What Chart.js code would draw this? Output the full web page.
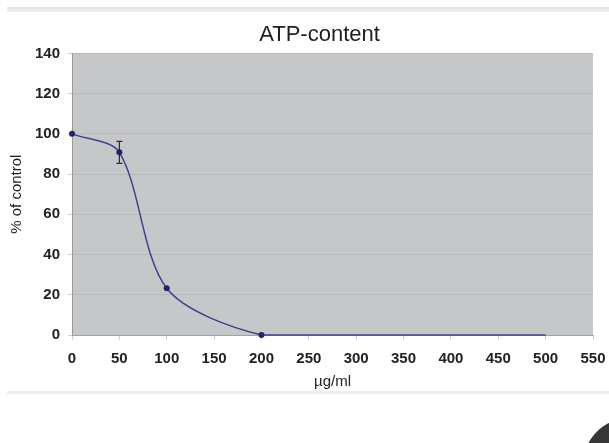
<!DOCTYPE html>
<html>
<head>
<meta charset="utf-8">
<script src="https://cdn.jsdelivr.net/npm/chart.js@4"></script>
<style>
  body { margin: 0; background: #fff; overflow: hidden; }
  #wrap { position: relative; width: 609px; height: 443px; overflow: hidden; }
  .rule { position: absolute; left: 7px; right: 0; }
  #ruleTop { top: 7px; height: 5px; background: linear-gradient(#e2e2e2, #f1f1f1); }
  #ruleBottom { top: 391px; height: 3px; background: #eeeeee; }
  #corner { position: absolute; left: 583px; top: 418px; width: 94px; height: 94px; border-radius: 50%; background: #363636; }
  canvas { position: absolute; left: 0; top: 0; }
</style>
</head>
<body>
<div id="wrap">
  <div class="rule" id="ruleTop"></div>
  <div class="rule" id="ruleBottom"></div>
  <canvas id="grafico" width="609" height="443"></canvas>
  <div id="corner"></div>
</div>
<script>
// ========== Datos ==========
const dosis = [0, 50, 100, 200, 300, 400, 500];        // µg/ml
const atp = [100, 90.8, 23.2, 0, 0, 0, 0];              // % of control
const errores = [0, 5.5, 0, 0, 0, 0, 0];                // +/- error
const marcadores = [3, 3, 3, 3, 0, 0, 0];
const yTicks = [0, 20, 40, 60, 80, 100, 120, 140];
const xTicks = [0, 50, 100, 150, 200, 250, 300, 350, 400, 450, 500, 550];

// fondo gris del area del grafico
const fondoPlot = {
  id: "fondoPlot",
  beforeDraw(chart) {
    const { ctx, chartArea: a } = chart;
    ctx.save();
    ctx.fillStyle = "#c6c7c9";
    ctx.fillRect(a.left, a.top, a.right - a.left, a.bottom - a.top);
    ctx.restore();
  },
};

// titulo algo desplazado a la derecha, como en el original
const moverTitulo = {
  id: "moverTitulo",
  afterLayout(chart) {
    if (chart.titleBlock) chart.titleBlock.left = 46;
  },
};

// barras de error
const barrasError = {
  id: "barrasError",
  afterDatasetsDraw(chart) {
    const { ctx, scales } = chart;
    ctx.save();
    ctx.strokeStyle = "#2a2a2a";
    ctx.lineWidth = 1.2;
    dosis.forEach((d, i) => {
      if (!errores[i]) return;
      const x = scales.x.getPixelForValue(d);
      const y1 = scales.y.getPixelForValue(atp[i] + errores[i]);
      const y2 = scales.y.getPixelForValue(atp[i] - errores[i]);
      ctx.beginPath();
      ctx.moveTo(x, y1);
      ctx.lineTo(x, y2);
      ctx.moveTo(x - 3, y1);
      ctx.lineTo(x + 3, y1);
      ctx.moveTo(x - 3, y2);
      ctx.lineTo(x + 3, y2);
      ctx.stroke();
    });
    ctx.restore();
  },
};

const fuente = "'Liberation Sans', Arial, sans-serif";

new Chart(document.getElementById("grafico"), {
  type: "line",
  data: {
    datasets: [
      {
        label: "ATP",
        data: dosis.map((d, i) => ({ x: d, y: atp[i] })),
        borderColor: "#40418f",
        borderWidth: 1.5,
        backgroundColor: "#23236e",
        pointRadius: marcadores,
        pointBorderWidth: 0,
        tension: 0.3,
        clip: false,
      },
    ],
  },
  options: {
    responsive: false,
    animation: false,
    layout: { padding: { left: 0, right: 16, top: 0, bottom: 0 } },
    plugins: {
      legend: { display: false },
      tooltip: { enabled: false },
      title: {
        display: true,
        text: "ATP-content",
        color: "#1e1e1e",
        font: { family: fuente, size: 22, weight: "normal" },
        padding: { top: 22, bottom: 5 },
      },
    },
    scales: {
      x: {
        type: "linear",
        min: 0,
        max: 550,
        afterBuildTicks: (s) => { s.ticks = xTicks.map((v) => ({ value: v })); },
        afterFit: (s) => { s.height = 108; s.paddingLeft = 0; s.paddingRight = 0; },
        border: { color: "#a3a3a3", width: 1 },
        grid: { drawOnChartArea: false, drawTicks: true, tickLength: 5, tickColor: "#cfcfcf" },
        ticks: { color: "#222", padding: 10, maxRotation: 0, font: { family: fuente, size: 15, weight: "bold" } },
        title: {
          display: true,
          text: "µg/ml",
          color: "#222",
          font: { family: fuente, size: 15 },
          padding: { top: 0, bottom: 52 },
        },
      },
      y: {
        min: 0,
        max: 140,
        afterBuildTicks: (s) => { s.ticks = yTicks.map((v) => ({ value: v })); },
        afterFit: (s) => { s.width = 72; s.paddingTop = 0; s.paddingBottom = 0; },
        border: { color: "#9a9a9a", width: 1 },
        grid: { color: "#b9babc", tickLength: 4, tickColor: "#cfcfcf" },
        ticks: { color: "#222", padding: 8, font: { family: fuente, size: 15, weight: "bold" } },
        title: {
          display: true,
          text: "% of control",
          color: "#222",
          font: { family: fuente, size: 15 },
          padding: { top: 8, bottom: 0 },
        },
      },
    },
  },
  plugins: [fondoPlot, moverTitulo, barrasError],
});
</script>
</body>
</html>
